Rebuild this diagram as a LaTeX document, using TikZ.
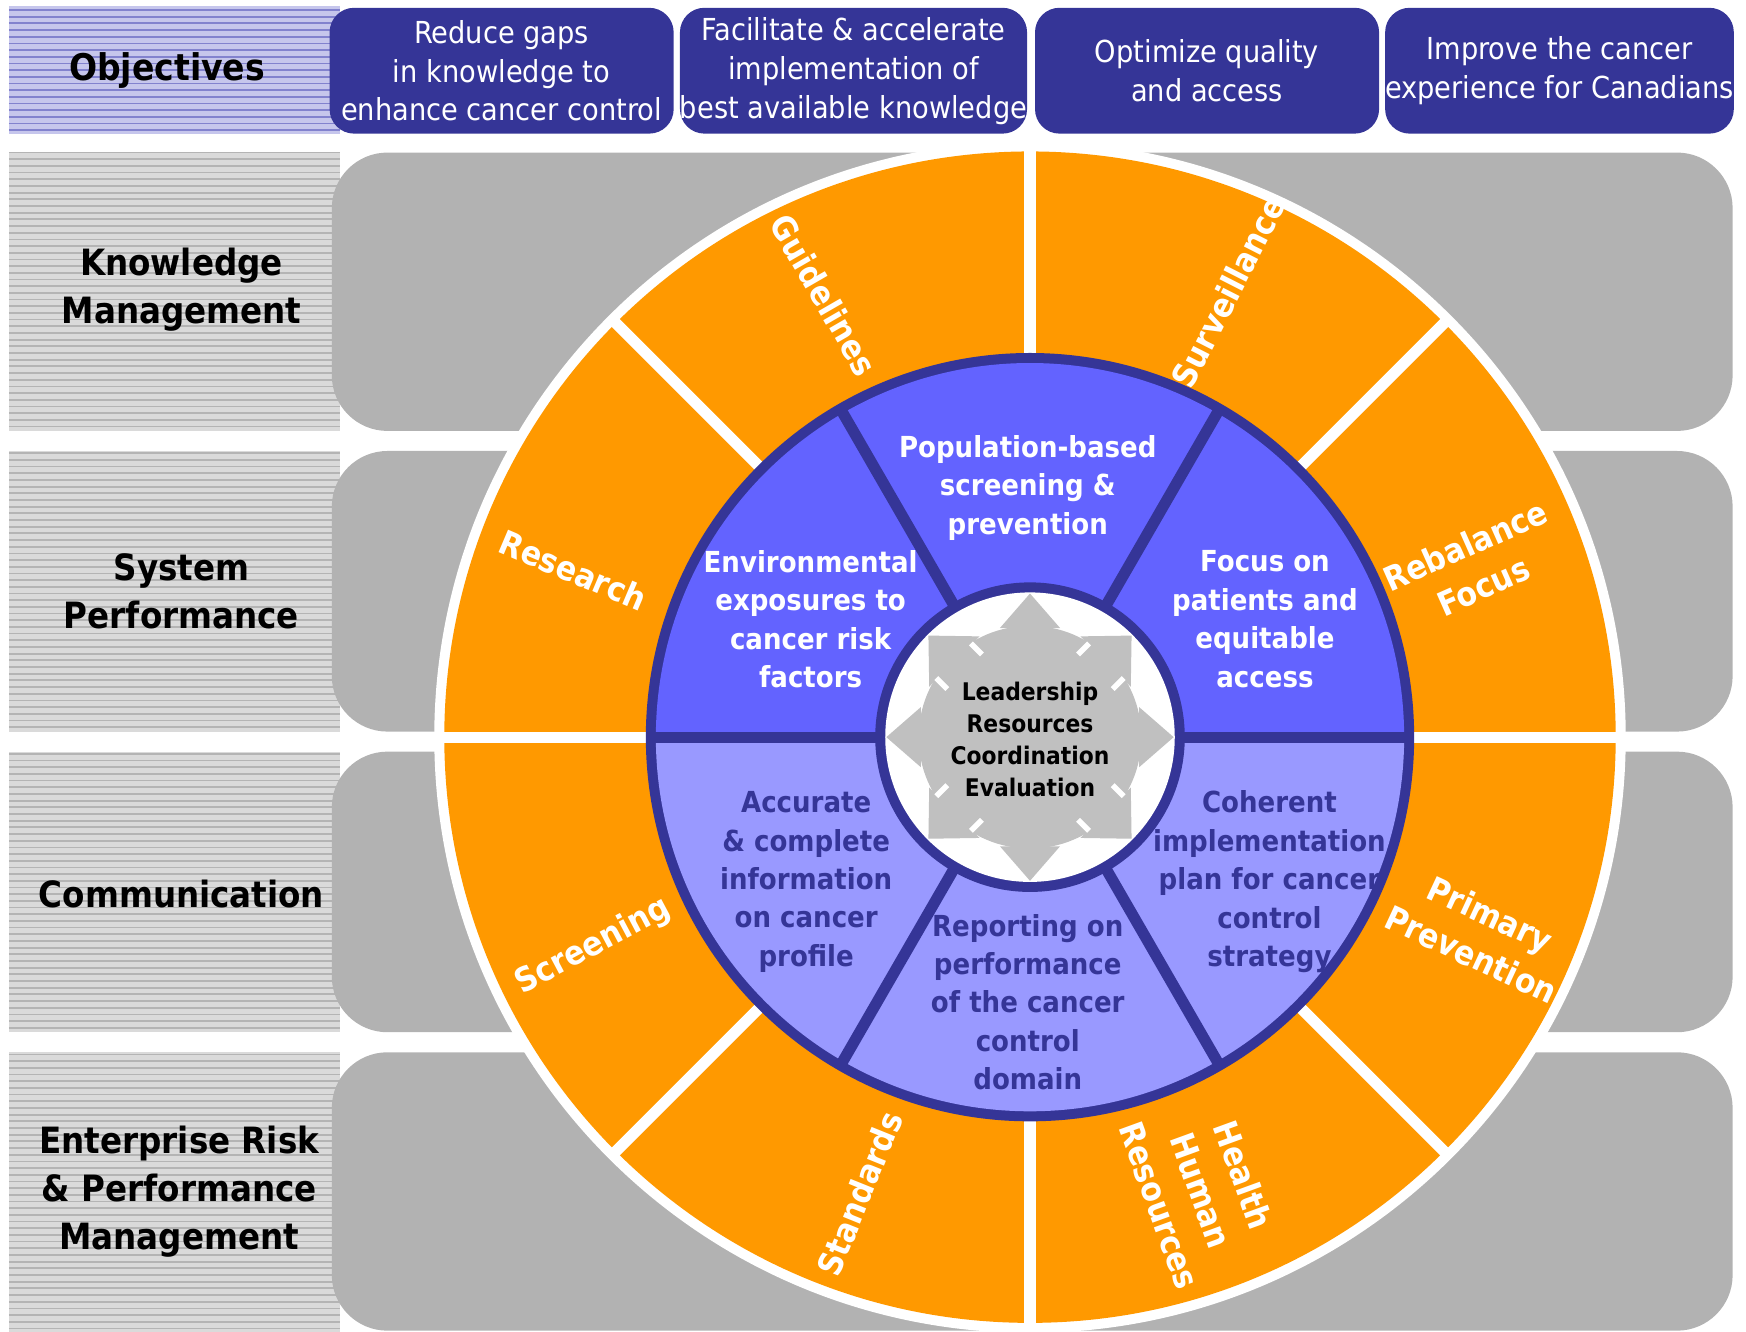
\documentclass[tikz,border=0pt]{standalone}
\usepackage{fontspec}
\setmainfont{DejaVu Sans}[FakeStretch=0.9]
\usepackage{tikz}
\usetikzlibrary{positioning}
\definecolor{dkblue}{HTML}{353597}
\definecolor{upblue}{HTML}{6363FF}
\definecolor{lowblue}{HTML}{9999FF}
\definecolor{ringorange}{HTML}{FF9900}
\definecolor{rowgray}{HTML}{B2B2B2}
\definecolor{stargray}{HTML}{C0C0C0}
\definecolor{bandgray}{HTML}{DADADA}
\definecolor{bandline}{HTML}{B4B4B4}
\definecolor{bandblue}{HTML}{C6C6EC}
\definecolor{bandbline}{HTML}{8282CE}

\begin{document}
\begin{tikzpicture}[x = .5pt, y = .5pt,
  objbox/.style = {fill = dkblue, rounded corners = 11pt, minimum width = 154.5pt, minimum height = 56.5pt, inner sep = 0pt, text = white, align = center, font = \fontsize{13.6}{17.5}\selectfont},
  rowlab/.style = {align = center, font = \bfseries\fontsize{16.25}{21.5}\selectfont},
  ringlab/.style = {text = white, align = center, font = \bfseries\fontsize{15}{20}\selectfont},
  uptxt/.style = {text = white, align = center, font = \bfseries\fontsize{13}{17.25}\selectfont},
  lowtxt/.style = {uptxt, text = dkblue},
  hubtxt/.style = {align = center, font = \bfseries\fontsize{10.9}{14.5}\selectfont}]
\useasboundingbox (-925,-534) rectangle (643,662);
% striped label column
\fill[bandblue] (-917,542) rectangle (-620,657);
\foreach \y in {545,551,...,655} \draw[bandbline, line width = .8pt] (-917,\y) -- (-620,\y);
\fill[bandgray] (-917,-534) rectangle (-620,525);
\foreach \y in {-531,-525,...,525} \draw[bandline, line width = .8pt] (-917,\y) -- (-620,\y);
\fill[white] (-925,257) rectangle (-620,275);
\fill[white] (-925,-13) rectangle (-620,5);
\fill[white] (-925,-283) rectangle (-620,-265);
% gray rows
\foreach \t/\b in {525/275, 257/5, -13/-265, -283/-533}
  \fill[rowgray, rounded corners = 25pt] (-627,\b) rectangle (631,\t);
% objectives
\node[rowlab, font = \bfseries\fontsize{16.5}{20}\selectfont] (obj) at (-775,599) {Objectives};
\node[objbox] (gaps) at (-474.5,598.5) {Reduce gaps\\in knowledge to\\enhance cancer control};
\node[objbox] (impl) at (-158.5,598.5) {Facilitate \& accelerate\\implementation of\\best available knowledge};
\node[objbox] (qual) at (159,598.5) {Optimize quality\\and access};
\node[objbox] (expe) at (475.5,598.5) {Improve the cancer\\experience for Canadians};
% row labels
\node[rowlab] (km) at (-762,402) {Knowledge\\Management};
\node[rowlab] (sp) at (-762,131) {System\\Performance};
\node[rowlab] (comm) at (-762,-141) {Communication};
\node[rowlab] (erm) at (-764,-408) {Enterprise Risk\\\& Performance\\Management};
% orange ring
\fill[white] (0,0) circle (535);
\fill[ringorange] (0,0) circle (526);
\foreach \a in {0,45,...,315} \draw[white, line width = 5pt] (0,0) -- (\a:531);
% blue ring
\fill[dkblue] (0,0) circle (345);
\fill[upblue] (0,0) -- (0:336) arc (0:180:336) -- cycle;
\fill[lowblue] (0,0) -- (180:336) arc (180:360:336) -- cycle;
\foreach \a in {0,60,...,300} \draw[dkblue, line width = 5pt] (0,0) -- (\a:340);
\fill[dkblue] (0,0) circle (139);
\fill[white] (0,0) circle (130);
% hub arrows
\fill[stargray] (0,0) circle (100);
\foreach \a in {0,90,180,270}
  \fill[stargray, rotate = \a] (129,0) -- (98,27) -- (98,16) -- (60,16) -- (60,-16) -- (98,-16) -- (98,-27) -- cycle;
\foreach \a in {45,135,225,315}{
  \fill[stargray, rotate = \a] (129,0) -- (96,32) -- (96,19) -- (60,19) -- (60,-19) -- (96,-19) -- (96,-32) -- cycle;
  \draw[white, line width = 2.5pt, rotate = \a] (83,22) -- (97,22) (83,-22) -- (97,-22);
}
\node[hubtxt] (hub) at (0,-2) {Leadership\\Resources\\Coordination\\Evaluation};
% blue sectors
\node[uptxt] (pop) at (-2,224) {Population-based\\screening \&\\prevention};
\node[uptxt] (env) at (-197,106) {Environmental\\exposures to\\cancer risk\\factors};
\node[uptxt] (pat) at (211,106) {Focus on\\patients and\\equitable\\access};
\node[lowtxt] (info) at (-201,-130) {Accurate\\\& complete\\information\\on cancer\\profile};
\node[lowtxt] (rep) at (-2,-238) {Reporting on\\performance\\of the cancer\\control\\domain};
\node[lowtxt] (plan) at (215,-130) {Coherent\\implementation\\plan for cancer\\control\\strategy};
% orange sectors
\node[ringlab, rotate = -60] (guide) at (-185,397) {Guidelines};
\node[ringlab, rotate = 63] (surv) at (178,400) {Surveillance};
\node[ringlab, rotate = -23] (res) at (-410,150) {Research};
\node[ringlab, rotate = 24] (rebal) at (399,154) {Rebalance\\Focus};
\node[ringlab, rotate = 28] (scr) at (-392,-188) {Screening};
\node[ringlab, rotate = -25] (prim) at (405,-177) {Primary\\Prevention};
\node[ringlab, rotate = 68] (stand) at (-153,-410) {Standards};
\node[ringlab, rotate = -70] (hhr) at (154,-407) {Health\\Human\\Resources};
\end{tikzpicture}
\end{document}
